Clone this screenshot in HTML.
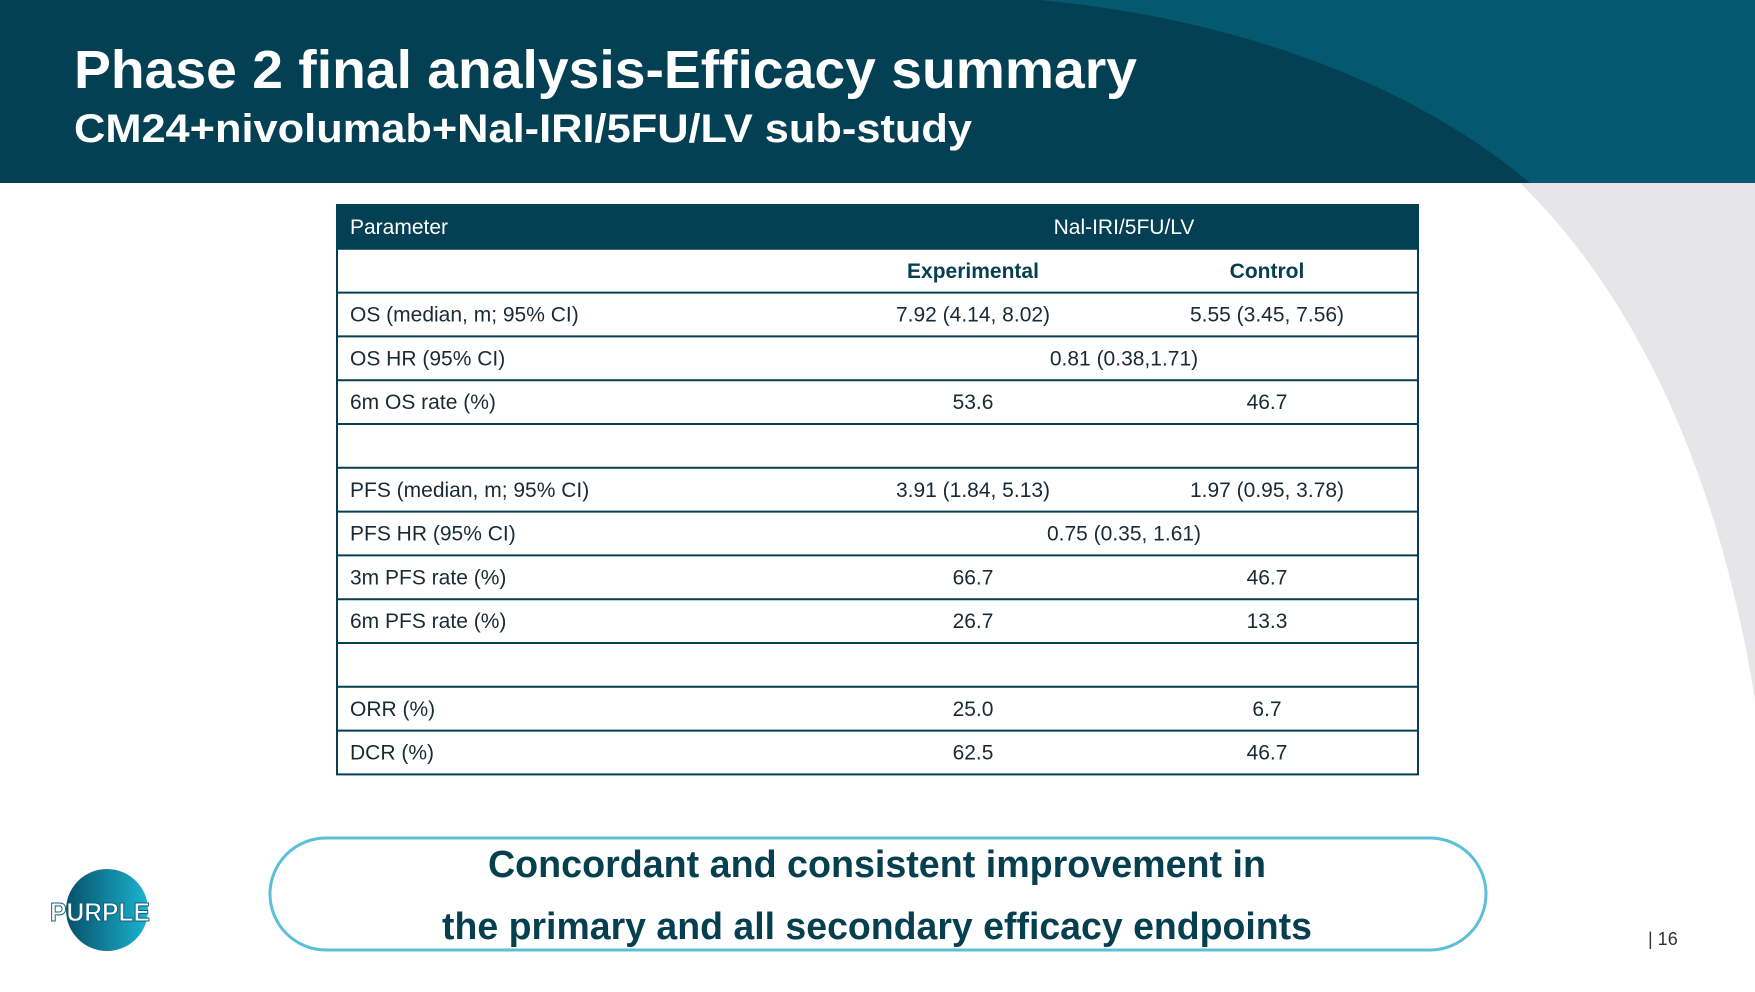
<!DOCTYPE html>
<html><head><meta charset="utf-8"><style>
html,body{margin:0;padding:0;background:#fff;}
svg{display:block;font-family:"Liberation Sans",sans-serif;}
</style></head><body>
<svg width="1755" height="992" viewBox="0 0 1755 992">
  <path d="M1520,183 C1640,300 1720,480 1755,700 L1755,183 Z" fill="#e6e6e8"/>
  <rect x="0" y="0" width="1755" height="183" fill="#034054"/>
  <path d="M1040,0 C1250,20 1420,90 1530,183 L1755,183 L1755,0 Z" fill="#04586f"/>
  <text x="74" y="88" font-size="54" font-weight="bold" fill="#fff" textLength="1063" lengthAdjust="spacingAndGlyphs">Phase 2 final analysis-Efficacy summary</text>
  <text x="74" y="142" font-size="40" font-weight="bold" fill="#fff" textLength="898" lengthAdjust="spacingAndGlyphs">CM24+nivolumab+Nal-IRI/5FU/LV sub-study</text>

  <g id="tbl"></g>

  <rect x="270" y="838" width="1216" height="112" rx="56" fill="#fff" stroke="#5bc0d8" stroke-width="3"/>
  <text x="877" y="877" text-anchor="middle" font-size="38" font-weight="bold" fill="#063f50" textLength="778" lengthAdjust="spacingAndGlyphs">Concordant and consistent improvement in</text>
  <text x="877" y="939" text-anchor="middle" font-size="38" font-weight="bold" fill="#063f50" textLength="870" lengthAdjust="spacingAndGlyphs">the primary and all secondary efficacy endpoints</text>

  <defs><linearGradient id="lg" x1="0" x2="1"><stop offset="0" stop-color="#07506a"/><stop offset="1" stop-color="#1bb4cf"/></linearGradient></defs>
  <circle cx="107" cy="910" r="41" fill="url(#lg)"/>
  <text x="50" y="921" font-size="26" font-weight="bold" fill="#fff" stroke="#0b5f78" stroke-width="1" textLength="100" lengthAdjust="spacingAndGlyphs">PURPLE</text>
  <text x="1648" y="945" font-size="18" fill="#333">| 16</text>
</svg>
<script>
const rowLabels=["OS (median, m; 95% CI)","OS HR (95% CI)","6m OS rate (%)","","PFS (median, m; 95% CI)","PFS HR (95% CI)","3m PFS rate (%)","6m PFS rate (%)","","ORR (%)","DCR (%)"];
const expVals=["7.92 (4.14, 8.02)","0.81 (0.38,1.71)","53.6","","3.91 (1.84, 5.13)","0.75 (0.35, 1.61)","66.7","26.7","","25.0","62.5"];
const ctrlVals=["5.55 (3.45, 7.56)","","46.7","","1.97 (0.95, 3.78)","","46.7","13.3","","6.7","46.7"];
const merged=[false,true,false,false,false,true,false,false,false,false,false];
const NS="http://www.w3.org/2000/svg";
const g=document.getElementById('tbl');
const X0=337,X1=1418,Y0=205,RH=43.8,CE=973,CC=1267,CM=1124;
function mk(tag,attrs,txt){const e=document.createElementNS(NS,tag);for(const k in attrs)e.setAttribute(k,attrs[k]);if(txt!==undefined)e.textContent=txt;g.appendChild(e);return e;}
let h=mk('rect',{x:X0,y:Y0,width:X1-X0,height:RH,fill:'#034054'});


let t=mk('text',{x:350,y:Y0+29,'font-size':21,fill:'#fff'},'Parameter');


t=mk('text',{x:CM,y:Y0+29,'font-size':21,fill:'#fff','text-anchor':'middle'},'Nal-IRI/5FU/LV');


t=mk('text',{x:CE,y:Y0+RH+29,'font-size':21,'font-weight':'bold',fill:'#063f50','text-anchor':'middle'},'Experimental');


t=mk('text',{x:CC,y:Y0+RH+29,'font-size':21,'font-weight':'bold',fill:'#063f50','text-anchor':'middle'},'Control');


for(let i=0;i<rowLabels.length;i++){
  const y=Y0+(i+2)*RH;
  const l=mk('text',{x:350,y:y+29,'font-size':21,fill:'#1a2a33'},rowLabels[i]);
  
  
  if(merged[i]){
    const m=mk('text',{x:CM,y:y+29,'font-size':21,fill:'#1a2a33','text-anchor':'middle'},expVals[i]);
    
    
  } else {
    const a=mk('text',{x:CE,y:y+29,'font-size':21,fill:'#1a2a33','text-anchor':'middle'},expVals[i]);
    
    
    const b=mk('text',{x:CC,y:y+29,'font-size':21,fill:'#1a2a33','text-anchor':'middle'},ctrlVals[i]);
    
    
  }
}
const nRows=rowLabels.length+2;
for(let i=1;i<nRows;i++){
  const y=Y0+i*RH;
  const ln=mk('line',{x1:X0,x2:X1,y1:y,y2:y,stroke:'#063f50','stroke-width':2});
  
  
}
const bd=mk('rect',{x:X0,y:Y0,width:X1-X0,height:nRows*RH,fill:'none',stroke:'#063f50','stroke-width':2});


</script>
</body></html>
